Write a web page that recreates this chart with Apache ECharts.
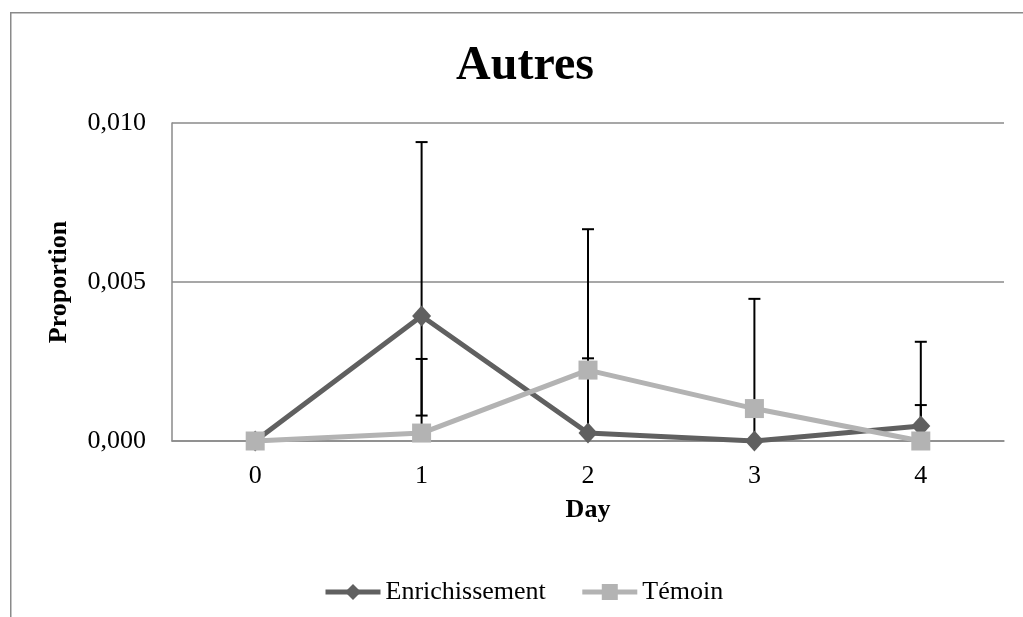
<!DOCTYPE html>
<html>
<head>
<meta charset="utf-8">
<script src="https://cdn.jsdelivr.net/npm/echarts@6/dist/echarts.min.js"></script>
<style>html,body{margin:0;padding:0;background:#fff}#c{width:1023px;height:617px}</style>
</head>
<body>
<div id="c"></div>
<script>
const days = ['0', '1', '2', '3', '4'];
const enrichissement = [0, 0.00393, 0.00025, 0, 0.00047];
const temoin = [0, 0.00025, 0.00223, 0.00102, 0];
// error bar ends (null = none)
const enrichErrUp = [null, 0.0094, 0.0026, 0.0009, 0.00312];
const enrichErrDown = [null, 0.0008, null, null, null];
const temoinErrUp = [null, 0.00258, 0.00666, 0.00447, 0.00113];
const temoinErrDown = [null, null, null, null, null];
const yTicks = [0, 0.005, 0.010];

const FONT = '"Liberation Serif", "DejaVu Serif", serif';

function errData(vals, up, down) {
  const out = [];
  vals.forEach((v, i) => {
    if (up[i] != null) out.push([i, v, up[i]]);
    if (down[i] != null) out.push([i, v, down[i]]);
  });
  return out;
}

function renderErr(params, api) {
  const x = api.value(0);
  const p0 = api.coord([x, api.value(1)]);
  const p1 = api.coord([x, api.value(2)]);
  const cw = 6;
  const style = { stroke: '#000', lineWidth: 2 };
  return {
    type: 'group',
    children: [
      { type: 'line', shape: { x1: p0[0], y1: p0[1], x2: p1[0], y2: p1[1] }, style },
      { type: 'line', shape: { x1: p1[0] - cw, y1: p1[1], x2: p1[0] + cw, y2: p1[1] }, style }
    ]
  };
}

const chart = echarts.init(document.getElementById('c'));
chart.setOption({
  animation: false,
  backgroundColor: '#fff',
  graphic: [{
    type: 'rect', left: 10, top: 12, z: -10,
    shape: { x: 0, y: 0, width: 1100, height: 700 },
    style: { fill: '#fff', stroke: '#8a8a8a', lineWidth: 1.5 }
  }],
  title: {
    text: 'Autres', left: 520, top: 38, textAlign: 'center',
    textStyle: { fontFamily: FONT, fontSize: 48, fontWeight: 'bold', color: '#000' }
  },
  legend: {
    left: 318, top: 574, itemWidth: 55, itemHeight: 20, itemGap: 34,
    data: [
      { name: 'Enrichissement', lineStyle: { width: 5, color: '#606060' } },
      { name: 'Témoin', lineStyle: { width: 5, color: '#b3b3b3' } }
    ],
    textStyle: { fontFamily: FONT, fontSize: 26, color: '#000' }
  },
  grid: { left: 172, right: 19, top: 123, bottom: 176, containLabel: false },
  xAxis: {
    type: 'category', data: days, boundaryGap: true,
    name: 'Day', nameLocation: 'middle', nameGap: 56,
    nameTextStyle: { fontFamily: FONT, fontSize: 26, fontWeight: 'bold', color: '#000' },
    axisLine: { lineStyle: { color: '#8a8a8a', width: 1.5 } },
    axisTick: { show: false },
    axisLabel: { fontFamily: FONT, fontSize: 26, color: '#000', margin: 22 }
  },
  yAxis: {
    type: 'value', min: 0, max: 0.01, interval: 0.005,
    name: 'Proportion', nameLocation: 'middle', nameGap: 100,
    nameTextStyle: { fontFamily: FONT, fontSize: 26, fontWeight: 'bold', color: '#000' },
    axisLine: { show: true, lineStyle: { color: '#8a8a8a', width: 1.5 } },
    axisTick: { show: false },
    splitLine: { lineStyle: { color: '#8a8a8a', width: 1.5 } },
    axisLabel: {
      fontFamily: FONT, fontSize: 26, color: '#000', margin: 26,
      formatter: v => yTicks.includes(+v.toFixed(3)) ? v.toFixed(3).replace('.', ',') : ''
    }
  },
  series: [
    {
      name: 'Enrichissement', type: 'line', data: enrichissement, z: 3,
      symbol: 'diamond', symbolSize: [19, 21],
      lineStyle: { color: '#606060', width: 5 },
      itemStyle: { color: '#606060' }
    },
    {
      name: 'Témoin', type: 'line', data: temoin, z: 4,
      symbol: 'rect', symbolSize: 19,
      lineStyle: { color: '#b3b3b3', width: 5 },
      itemStyle: { color: '#b3b3b3' }
    },
    {
      type: 'custom', z: 2, renderItem: renderErr, silent: true,
      data: errData(enrichissement, enrichErrUp, enrichErrDown)
    },
    {
      type: 'custom', z: 2, renderItem: renderErr, silent: true,
      data: errData(temoin, temoinErrUp, temoinErrDown)
    }
  ]
});
</script>
</body>
</html>
